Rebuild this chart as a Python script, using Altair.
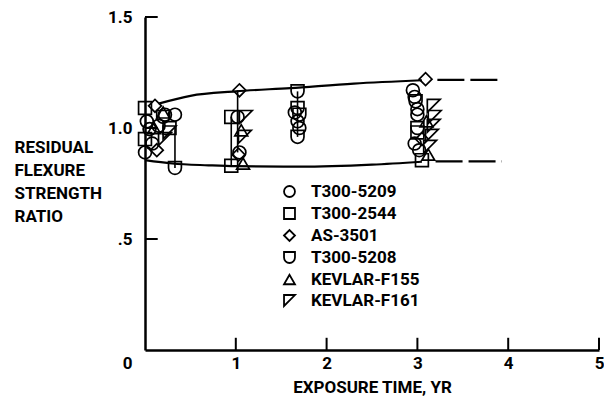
import altair as alt
import pandas as pd

FONT = "Roboto, Liberation Sans, sans-serif"
FS = 17

materials = ["T300-5209", "T300-2544", "AS-3501", "T300-5208", "KEVLAR-F155", "KEVLAR-F161"]
shapes = ["circle", "square", "diamond",
          "M-1,-1L1,-1L1,0A1,1,0,0,1,-1,0Z",
          "triangle-up",
          "M-1,-1L1,-1L-1,1Z"]

# exposure time (yr) and residual flexure strength ratio, per material
t5209_t = [0.02, 0.05, 0.15, 0.22, 0.33, 0.0, 0.08, 1.02, 1.04, 1.65, 1.68, 1.70, 2.95, 2.97, 3.0, 3.0, 2.97, 3.02]
t5209_v = [1.03, 0.995, 1.01, 1.06, 1.06, 0.89, 0.93, 1.05, 0.89, 1.07, 1.03, 1.00, 1.17, 1.14, 1.085, 1.06, 0.93, 0.90]
t2544_t = [0.0, 0.0, 0.27, 0.95, 0.95, 3.05, 3.0]
t2544_v = [1.09, 0.95, 1.0, 1.05, 0.83, 0.855, 0.98]
as3501_t = [0.11, 0.13, 1.04, 1.03, 3.09, 3.05]
as3501_v = [1.10, 0.90, 1.17, 0.88, 1.22, 0.95]
t5208_t = [0.33, 0.2, 1.68, 1.68, 1.70, 1.68, 3.0, 2.98]
t5208_v = [0.82, 1.05, 1.165, 1.09, 1.06, 0.96, 1.0, 1.12]
kf155_t = [0.1, 0.2, 1.06, 1.08, 3.1, 3.12]
kf155_v = [1.0, 1.07, 0.99, 0.84, 1.03, 0.88]
kf161_t = [0.22, 0.27, 1.11, 1.1, 3.18, 3.19, 3.18, 3.16, 3.14]
kf161_v = [0.95, 0.98, 1.05, 0.96, 1.10, 1.05, 1.01, 0.965, 0.915]

# vertical scatter-range lines
rng_t = [0.33, 0.95, 1.02, 1.68]
rng_lo = [0.82, 0.83, 0.89, 0.96]
rng_hi = [1.0, 1.05, 1.17, 1.165]

# envelope curves
up_t = [0.15, 0.5, 1.0, 1.6, 2.3, 3.05]
up_v = [1.11, 1.145, 1.165, 1.18, 1.2, 1.215]
up_dash_t = [3.22, 3.93]
up_dash_v = [1.217, 1.217]
lo_t = [0.0, 0.3, 0.7, 1.0, 1.7, 2.5, 3.05]
lo_v = [0.855, 0.84, 0.832, 0.828, 0.826, 0.835, 0.848]
lo_dash_t = [3.2, 3.93]
lo_dash_v = [0.85, 0.85]

# inward tick marks
xticks = [1, 2, 3, 4, 5]
yticks = [0.5, 1.0, 1.5]

rows = []
for m, ts, vs in zip(materials,
                     [t5209_t, t2544_t, as3501_t, t5208_t, kf155_t, kf161_t],
                     [t5209_v, t2544_v, as3501_v, t5208_v, kf155_v, kf161_v]):
    for t, v in zip(ts, vs):
        rows.append({"t": t, "v": v, "mat": m})
pts = pd.DataFrame(rows)

xscale = alt.Scale(domain=[0, 5], nice=False)
yscale = alt.Scale(domain=[0, 1.5], nice=False)

xaxis = alt.Axis(values=xticks, ticks=False, grid=False, domainColor="black", domainWidth=2.5,
                 labelFont=FONT, labelFontSize=FS, labelFontWeight="bold", labelColor="black",
                 labelPadding=5, labelFlush=False, labelBaseline="top",
                 title="EXPOSURE TIME, YR", titleFont=FONT, titleFontSize=FS, titleFontWeight="bold",
                 titleColor="black", titleY=37, titleBaseline="middle")
yaxis = alt.Axis(values=[0, 0.5, 1.0, 1.5], ticks=False, grid=False, domainColor="black", domainWidth=2.5,
                 labelFont=FONT, labelFontSize=FS, labelFontWeight="bold", labelColor="black",
                 labelPadding=13, labelFlush=False, labelBaseline="middle",
                 labelExpr="datum.value == 0 ? '0' : (datum.value == 0.5 ? '.5' : format(datum.value, '.1f'))",
                 labelOffset={"condition": {"test": "datum.value == 0", "value": 13}, "value": 0},
                 title=["RESIDUAL", "FLEXURE", "STRENGTH", "RATIO"], titleAngle=0, titleAlign="left",
                 titleBaseline="top", titleX=-131, titleY=122, titleLineHeight=23,
                 titleFont=FONT, titleFontSize=FS, titleFontWeight="bold", titleColor="black")

X = lambda f="t": alt.X(f"{f}:Q", scale=xscale, axis=xaxis)
Y = lambda f="v": alt.Y(f"{f}:Q", scale=yscale, axis=yaxis)

points = alt.Chart(pts).mark_point(filled=False, color="black", strokeWidth=1.7, size=165, opacity=1).encode(
    x=X(), y=Y(),
    shape=alt.Shape("mat:N", scale=alt.Scale(domain=materials, range=shapes),
                    legend=alt.Legend(title=None, orient="none", legendX=136, legendY=166,
                                      labelFont=FONT, labelFontSize=FS, labelFontWeight="bold",
                                      labelColor="black", labelOffset=13, rowPadding=3,
                                      symbolSize=120, symbolStrokeWidth=1.8, symbolStrokeColor="black",
                                      symbolFillColor="transparent", padding=0)),
)

rng = alt.Chart(pd.DataFrame({"t": rng_t, "lo": rng_lo, "hi": rng_hi})).mark_rule(
    color="black", strokeWidth=1.6).encode(x=X(), y=alt.Y("lo:Q", scale=yscale, axis=yaxis), y2="hi:Q")

def line(ts, vs, dash=None):
    kw = dict(color="black", strokeWidth=2.2, interpolate="monotone")
    if dash:
        kw["strokeDash"] = dash
    return alt.Chart(pd.DataFrame({"t": ts, "v": vs})).mark_line(**kw).encode(x=X(), y=Y())

up = line(up_t, up_v)
upd = line(up_dash_t, up_dash_v, [27, 6])
lo = line(lo_t, lo_v)
lod = line(lo_dash_t, lo_dash_v, [27, 6])

ytk = alt.Chart(pd.DataFrame({"t": [0.0] * len(yticks), "t2": [0.14] * len(yticks), "v": yticks})).mark_rule(
    color="black", strokeWidth=2).encode(x=X(), x2="t2:Q", y=Y())
xtk = alt.Chart(pd.DataFrame({"t": xticks, "v": [0.0] * len(xticks), "v2": [0.055] * len(xticks)})).mark_rule(
    color="black", strokeWidth=2).encode(x=X(), y=Y(), y2="v2:Q")

chart = alt.layer(ytk, xtk, up, upd, lo, lod, rng, points).properties(
    width=454, height=333,
    autosize=alt.AutoSizeParams(type="none"),
    padding={"left": 137, "top": 9, "right": 5, "bottom": 46},
    background="white",
).configure_view(stroke=None)

chart.save("out.html", embed_options={"renderer": "svg", "actions": False})
